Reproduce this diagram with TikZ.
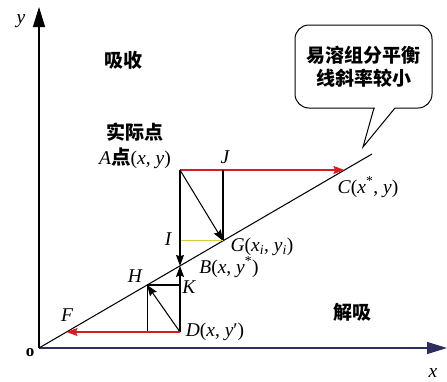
\documentclass[tikz,border=0pt]{standalone}
\usepackage{fontspec}
\setmainfont{Liberation Serif}
\newfontfamily\cjk{Noto Sans CJK SC}
\usetikzlibrary{arrows.meta}
\definecolor{lred}{RGB}{215,30,30}
\definecolor{lyel}{RGB}{215,205,60}
\definecolor{axblue}{RGB}{45,45,95}
\begin{document}
\begin{tikzpicture}[x=1pt,y=-1pt,
  every node/.style={inner sep=0pt,font=\fontsize{19.5}{22}\selectfont},
  lab/.style={font=\fontsize{19.5}{22}\selectfont\itshape},
  cn/.style={font=\fontsize{19}{23}\selectfont\cjk\bfseries},
  ln/.style={line width=1.05pt},
  tip/.style={-{Stealth[length=11pt,width=8pt,inset=1.5pt]}},
  axis/.style={line width=1.2pt,-{Triangle[length=20pt,width=12pt]}},
  notebox/.style={draw,line width=1pt,rounded corners=14pt,fill=white,minimum width=137pt,minimum height=83pt,align=center}
]
\useasboundingbox (0,0) rectangle (447,381);
% points
\coordinate (O) at (39,348);
\coordinate (Ytop) at (39,7);
\coordinate (Xend) at (447,348);
\coordinate (E) at (372,154);
\coordinate (A) at (180,170);
\coordinate (C) at (344.5,170);
\coordinate (J) at (223,170);
\coordinate (G) at (223,240.8);
\coordinate (I) at (180,240.8);
\coordinate (B) at (180,265.9);
\coordinate (K) at (180,285);
\coordinate (H) at (147.1,285);
\coordinate (Hb) at (147.1,332);
\coordinate (D) at (180,332);
\coordinate (F) at (66.5,332);
% axes
\draw[axis] (O) -- (Ytop);
\draw[axis,axblue] (O) -- (Xend);
% equilibrium line
\draw[ln] (O) -- (E);
% construction
\draw[ln,lred,tip] (A) -- (C);
\draw[ln] (J) -- (G);
\draw[ln,tip] (A) -- (G);
\draw[ln,lyel] (I) -- (G);
\draw[ln,tip] (A) -- (B);
\draw[ln,tip] (D) -- (B);
\draw[ln] (H) -- (K);
\draw[ln] (H) -- (Hb);
\draw[ln,tip] (D) -- (H);
\draw[ln,lred,tip] (D) -- (F);
% callout
\node[notebox,cn] (note) at (363.5,66.5) {易溶组分平衡\\[0pt]线斜率较小};
\coordinate (PL) at (374,108);
\coordinate (PR) at (395,108);
\coordinate (PT) at (363,147);
\fill[white] (374.5,106.5) rectangle (394.5,109.6);
\draw[line width=1pt,line join=miter] (PL) -- (PT) -- (PR);
% labels
\node[lab] (ylab) at (21,21) {y};
\node[lab] (xlab) at (433,373) {x};
\node[font=\fontsize{17}{20}\selectfont\bfseries] (olab) at (30,353) {o};
\node[cn] (absorb) at (123,60) {吸收};
\node[cn] (desorb) at (352,312) {解吸};
\node[cn] (actual) at (135,132) {实际点};
\node (Alab) at (135,158) {\textit{A}{\cjk\bfseries 点}(\textit{x}, \textit{y})};
\node[lab] (Jlab) at (225,157) {J};
\node (Clab) at (368,187) {\textit{C}(\textit{x}\textsuperscript{*}, \textit{y})};
\node (Glab) at (262,247) {\textit{G}(\textit{x}\textsubscript{\textit{i}}, \textit{y}\textsubscript{\textit{i}})};
\node[lab] (Ilab) at (168,239) {I};
\node (Blab) at (229,267) {\textit{B}(\textit{x}, \textit{y}\textsuperscript{*})};
\node[lab] (Hlab) at (135,276) {H};
\node[lab] (Klab) at (189,287) {K};
\node (Dlab) at (215,332) {\textit{D}(\textit{x}, \textit{y}′)};
\node[lab] (Flab) at (67,315) {F};
\end{tikzpicture}
\end{document}
